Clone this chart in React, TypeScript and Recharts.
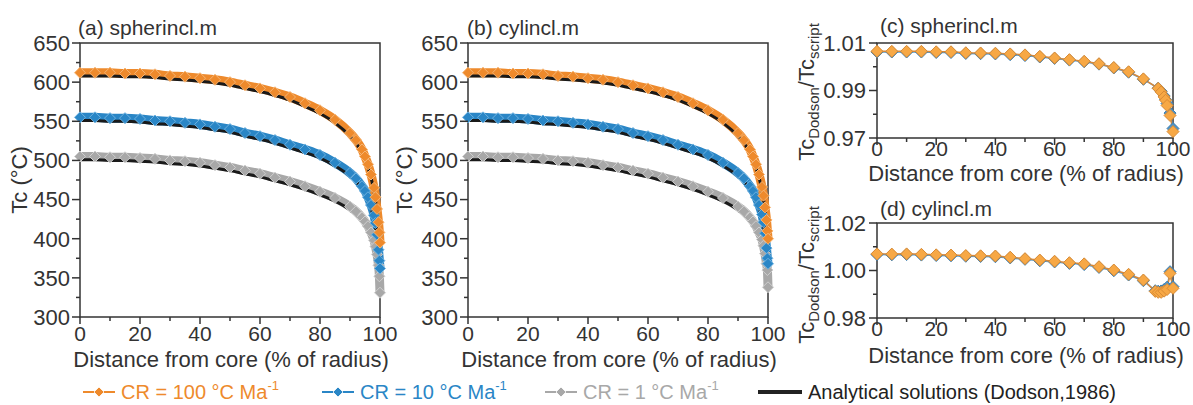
import React from "react";
import { LineChart, Line, XAxis, YAxis, ReferenceArea } from "recharts";

// distance from core (% of radius), panels a and b
const distAB = [0, 5, 10, 15, 20, 25, 30, 35, 40, 45, 50, 55, 60, 65, 70, 75, 80, 85, 90, 92, 94, 95, 96, 97, 98, 98.5, 99, 99.5, 99.8, 100];

// (a) spherincl.m
const orangeA = [612, 612, 612, 611, 611, 610, 608, 607, 605, 603, 600, 596, 592, 587, 581, 573, 564, 552, 535, 526, 514, 505, 495, 482, 465, 453, 438, 421, 408, 395];
const dodsonOrangeA = [608, 608, 608, 607, 607, 606, 604, 603, 601, 599, 596, 592, 588, 583, 577, 569, 560, 548, 531, 522, 510, 501, 491, 478, 461, 449, 433, 413, 395, 365];
const blueA = [555, 555, 554, 554, 553, 551, 550, 548, 546, 543, 540, 535, 531, 526, 520, 514, 507, 497, 484, 477, 467, 461, 453, 443, 430, 420, 405, 386, 372, 362];
const dodsonBlueA = [551, 551, 550, 550, 549, 547, 546, 544, 542, 539, 536, 531, 527, 522, 516, 510, 503, 493, 480, 473, 463, 457, 449, 439, 426, 416, 401, 382, 370, 362];
const grayA = [505, 505, 504, 504, 503, 502, 500, 499, 497, 494, 491, 487, 483, 478, 473, 467, 460, 452, 441, 435, 427, 422, 416, 408, 398, 390, 380, 366, 352, 331];
const dodsonGrayA = [501, 501, 500, 500, 499, 498, 496, 495, 493, 490, 487, 483, 479, 474, 469, 463, 456, 448, 437, 431, 423, 418, 412, 404, 394, 386, 376, 364, 361, 360];

// (b) cylincl.m
const orangeB = [612, 612, 612, 611, 611, 610, 608, 607, 605, 603, 600, 596, 592, 587, 581, 573, 564, 552, 535, 526, 514, 505, 495, 482, 466, 455, 440, 424, 410, 400];
const dodsonOrangeB = [608, 608, 608, 607, 607, 606, 604, 603, 601, 599, 596, 592, 588, 583, 577, 569, 560, 548, 531, 522, 510, 501, 491, 478, 462, 450, 435, 415, 398, 368];
const blueB = [555, 555, 554, 554, 553, 551, 550, 548, 546, 543, 540, 535, 531, 526, 520, 514, 507, 497, 484, 477, 467, 461, 453, 443, 431, 421, 407, 388, 375, 368];
const dodsonBlueB = [551, 551, 550, 550, 549, 547, 546, 544, 542, 539, 536, 531, 527, 522, 516, 510, 503, 493, 480, 473, 463, 457, 449, 439, 427, 417, 403, 384, 372, 365];
const grayB = [505, 505, 504, 504, 503, 502, 500, 499, 497, 494, 491, 487, 483, 478, 473, 467, 460, 452, 441, 435, 427, 422, 416, 408, 399, 391, 381, 368, 360, 338];
const dodsonGrayB = [501, 501, 500, 500, 499, 498, 496, 495, 493, 490, 487, 483, 479, 474, 469, 463, 456, 448, 437, 431, 423, 418, 412, 404, 395, 387, 377, 366, 363, 362];

// (c) spherincl.m ratio
const distC = [0, 5, 10, 15, 20, 25, 30, 35, 40, 45, 50, 55, 60, 65, 70, 75, 80, 85, 90, 95, 96, 97, 97.5, 98, 99, 100];
const orangeC = [1.0065, 1.0065, 1.0065, 1.0065, 1.0063, 1.0063, 1.0059, 1.0058, 1.0057, 1.0054, 1.005, 1.0044, 1.0037, 1.003, 1.0023, 1.0013, 0.9997, 0.9979, 0.9949, 0.9909, 0.9894, 0.9873, 0.9859, 0.9837, 0.9795, 0.9727];
const blueC = [1.0062, 1.0062, 1.0062, 1.0062, 1.006, 1.006, 1.0056, 1.0055, 1.0054, 1.0051, 1.0047, 1.0041, 1.0035, 1.0028, 1.0021, 1.0011, 0.9995, 0.9977, 0.9947, 0.991, 0.9897, 0.9877, 0.9862, 0.9845, 0.9805, 0.974];

// (d) cylincl.m ratio
const distD = [0, 5, 10, 15, 20, 25, 30, 35, 40, 45, 50, 55, 60, 65, 70, 75, 80, 85, 90, 94, 95, 96, 97, 98, 99, 100];
const orangeD = [1.007, 1.0069, 1.007, 1.0068, 1.0066, 1.0065, 1.0063, 1.0062, 1.0061, 1.0056, 1.005, 1.0044, 1.0039, 1.0033, 1.0028, 1.0016, 1.0002, 0.9984, 0.996, 0.9912, 0.9908, 0.9908, 0.9913, 0.992, 0.9988, 0.9925];
const blueD = [1.0067, 1.0066, 1.0067, 1.0065, 1.0063, 1.0062, 1.006, 1.0059, 1.0058, 1.0053, 1.0047, 1.0041, 1.0036, 1.003, 1.0025, 1.0013, 0.9999, 0.9981, 0.9957, 0.9915, 0.9913, 0.9914, 0.992, 0.993, 0.9995, 0.9932];

const xTicks = [0, 10, 20, 30, 40, 50, 60, 70, 80, 90, 100];
const xLabels = [0, 20, 40, 60, 80, 100];
const tcTicks = [300, 325, 350, 375, 400, 425, 450, 475, 500, 525, 550, 575, 600, 625, 650];
const tcLabels = [300, 350, 400, 450, 500, 550, 600, 650];
const ratioTicksC = [0.97, 0.98, 0.99, 1.0, 1.01];
const ratioLabelsC = [0.97, 0.99, 1.01];
const ratioTicksD = [0.98, 0.99, 1.0, 1.01, 1.02];
const ratioLabelsD = [0.98, 1.0, 1.02];

const INK = "#333";
const ORANGE = "#EE8A2C";
const BLUE = "#2A86C6";
const GRAY = "#A8A8A8";
const FONT = "'Liberation Sans', Arial, sans-serif";

const rowsAB = (dist: number[], o: number[], od: number[], b: number[], bd: number[], g: number[], gd: number[]) =>
  dist.map((d, i) => ({ d, o: o[i], od: od[i], b: b[i], bd: bd[i], g: g[i], gd: gd[i] }));
const rowsRatio = (dist: number[], o: number[], b: number[]) => dist.map((d, i) => ({ d, o: o[i], b: b[i] }));

const dataA = rowsAB(distAB, orangeA, dodsonOrangeA, blueA, dodsonBlueA, grayA, dodsonGrayA);
const dataB = rowsAB(distAB, orangeB, dodsonOrangeB, blueB, dodsonBlueB, grayB, dodsonGrayB);
const dataC = rowsRatio(distC, orangeC, blueC);
const dataD = rowsRatio(distD, orangeD, blueD);

const has = (arr: number[], v: number) => arr.some((a) => Math.abs(a - v) < 1e-9);

const makeXTick = (gap: number, size: number) => (p: any) => {
  const v = p.payload.value;
  const major = has(xLabels, v);
  return (
    <g>
      <line x1={p.x} x2={p.x} y1={p.y} y2={p.y + (major ? 7 : 4)} stroke={INK} strokeWidth={1.5} />
      {major && (
        <text x={p.x} y={p.y + gap} dy="0.72em" textAnchor="middle" fontSize={size} fill={INK} fontFamily={FONT}>
          {v}
        </text>
      )}
    </g>
  );
};

const makeYTick = (labels: number[], fmt: (v: number) => string, gap: number) => (p: any) => {
  const v = p.payload.value;
  const major = has(labels, v);
  return (
    <g>
      <line x1={p.x} x2={p.x - (major ? 8 : 4)} y1={p.y} y2={p.y} stroke={INK} strokeWidth={1.5} />
      {major && (
        <text x={p.x - gap} y={p.y} dy="0.36em" textAnchor="end" fontSize={22} fill={INK} fontFamily={FONT}>
          {fmt(v)}
        </text>
      )}
    </g>
  );
};

const diamond = (r: number, fill: string, stroke: string) => (p: any) => {
  const { cx, cy, index } = p;
  if (cx == null || cy == null) return <g key={index} />;
  return (
    <path
      key={index}
      d={`M${cx},${cy - r}L${cx + r},${cy}L${cx},${cy + r}L${cx - r},${cy}Z`}
      fill={fill}
      stroke={stroke}
      strokeWidth={1}
    />
  );
};

const TcPanel = ({ data, left }: { data: any[]; left: number }) => (
  <div style={{ position: "absolute", left, top: 0 }}>
    <LineChart width={405} height={372} data={data} margin={{ top: 43, right: 25, bottom: 25, left: 20 }}>
      <XAxis
        dataKey="d"
        type="number"
        domain={[0, 100]}
        ticks={xTicks}
        height={30}
        tickSize={0}
        tickMargin={0}
        axisLine={false}
        tickLine={false}
        tick={makeXTick(9, 21)}
        interval={0}
      />
      <YAxis
        type="number"
        domain={[300, 650]}
        ticks={tcTicks}
        width={60}
        tickSize={0}
        tickMargin={0}
        axisLine={false}
        tickLine={false}
        tick={makeYTick(tcLabels, (v) => String(v), 10)}
        interval={0}
      />
      <ReferenceArea x1={0} x2={100} y1={300} y2={650} fill="none" stroke={INK} strokeWidth={1.5} />
      <Line type="monotone" dataKey="g" stroke={GRAY} strokeWidth={9} dot={diamond(5.5, GRAY, "#CFCFCF")} isAnimationActive={false} />
      <Line type="monotone" dataKey="b" stroke={BLUE} strokeWidth={9} dot={diamond(5.5, BLUE, "#6FB2E0")} isAnimationActive={false} />
      <Line type="monotone" dataKey="o" stroke={ORANGE} strokeWidth={9} dot={diamond(5.5, ORANGE, "#F6B574")} isAnimationActive={false} />
      <Line type="monotone" dataKey="gd" stroke="#1a1a1a" strokeWidth={3} dot={false} isAnimationActive={false} />
      <Line type="monotone" dataKey="bd" stroke="#1a1a1a" strokeWidth={3} dot={false} isAnimationActive={false} />
      <Line type="monotone" dataKey="od" stroke="#1a1a1a" strokeWidth={3} dot={false} isAnimationActive={false} />
    </LineChart>
  </div>
);

const RatioPanel = ({
  data,
  top,
  domain,
  ticks,
  labels,
}: {
  data: any[];
  top: number;
  domain: [number, number];
  ticks: number[];
  labels: number[];
}) => (
  <div style={{ position: "absolute", left: 797, top }}>
    <LineChart width={396} height={178} data={data} margin={{ top: 43, right: 20, bottom: 10, left: 20 }}>
      <XAxis
        dataKey="d"
        type="number"
        domain={[0, 100]}
        ticks={xTicks}
        height={30}
        tickSize={0}
        tickMargin={0}
        axisLine={false}
        tickLine={false}
        tick={makeXTick(3, 21)}
        interval={0}
      />
      <YAxis
        type="number"
        domain={domain}
        ticks={ticks}
        width={60}
        tickSize={0}
        tickMargin={0}
        axisLine={false}
        tickLine={false}
        tick={makeYTick(labels, (v) => v.toFixed(2), 11)}
        interval={0}
      />
      <ReferenceArea x1={0} x2={100} y1={domain[0]} y2={domain[1]} fill="none" stroke={INK} strokeWidth={1.5} />
      <Line type="linear" dataKey="b" stroke="#5B9BC8" strokeWidth={1.5} dot={diamond(6, "#4F93C6", "#3E7FAF")} isAnimationActive={false} />
      <Line type="linear" dataKey="o" stroke="#D9893A" strokeWidth={1.5} dot={diamond(6, "#F7A845", "#D98B35")} isAnimationActive={false} />
    </LineChart>
  </div>
);

const txt: React.CSSProperties = { position: "absolute", whiteSpace: "nowrap", fontFamily: FONT, color: INK, lineHeight: 1 };

const Rotated = ({ cx, cy, children }: { cx: number; cy: number; children: React.ReactNode }) => (
  <div style={{ ...txt, left: cx, top: cy, fontSize: 22, transform: "translate(-50%, -50%) rotate(-90deg)" }}>{children}</div>
);

const XTitle = ({ cx, cy }: { cx: number; cy: number }) => (
  <div style={{ ...txt, left: cx, top: cy, fontSize: 22, transform: "translate(-50%, -50%)" }}>Distance from core (% of radius)</div>
);

const Sub = ({ children }: { children: React.ReactNode }) => (
  <span style={{ fontSize: 15, position: "relative", top: 5 }}>{children}</span>
);

const RatioLabel = () => (
  <>
    Tc<Sub>Dodson</Sub>/Tc<Sub>script</Sub>
  </>
);

const LegendItem = ({ left, color, text, line }: { left: number; color: string; text: React.ReactNode; line?: boolean }) => (
  <div style={{ ...txt, left, top: 382, fontSize: 20, color: line ? "#222" : color, display: "flex", alignItems: "center" }}>
    <svg width={line ? 44 : 32} height={14} style={{ marginRight: 6 }}>
      {line ? (
        <line x1={0} x2={44} y1={7} y2={7} stroke="#222" strokeWidth={4} />
      ) : (
        <>
          <line x1={0} x2={32} y1={7} y2={7} stroke={color} strokeWidth={2} />
          <path d="M16,2L21,7L16,12L11,7Z" fill={color} stroke="#fff" strokeWidth={0.8} />
        </>
      )}
    </svg>
    <span>{text}</span>
  </div>
);

const Cr = ({ v }: { v: string }) => (
  <>
    CR = {v} °C Ma<span style={{ fontSize: 13, position: "relative", top: -9 }}>-1</span>
  </>
);

export default function App() {
  return (
    <div style={{ position: "absolute", left: 0, top: 0, width: 1193, height: 405, background: "#fff", overflow: "hidden" }}>
      <TcPanel data={dataA} left={0} />
      <TcPanel data={dataB} left={388} />
      <RatioPanel data={dataC} top={0} domain={[0.97, 1.01]} ticks={ratioTicksC} labels={ratioLabelsC} />
      <RatioPanel data={dataD} top={180} domain={[0.98, 1.02]} ticks={ratioTicksD} labels={ratioLabelsD} />

      <div style={{ ...txt, left: 78, top: 17, fontSize: 21 }}>(a) spherincl.m</div>
      <div style={{ ...txt, left: 467, top: 17, fontSize: 21 }}>(b) cylincl.m</div>
      <div style={{ ...txt, left: 880, top: 15, fontSize: 21 }}>(c) spherincl.m</div>
      <div style={{ ...txt, left: 880, top: 198, fontSize: 21 }}>(d) cylincl.m</div>

      <Rotated cx={20} cy={180}>Tc (°C)</Rotated>
      <Rotated cx={405} cy={180}>Tc (°C)</Rotated>
      <Rotated cx={807} cy={92}>
        <RatioLabel />
      </Rotated>
      <Rotated cx={807} cy={275}>
        <RatioLabel />
      </Rotated>

      <XTitle cx={231} cy={360} />
      <XTitle cx={619} cy={360} />
      <XTitle cx={1026} cy={174} />
      <XTitle cx={1026} cy={356} />

      <LegendItem left={83} color={ORANGE} text={<Cr v="100" />} />
      <LegendItem left={322} color={BLUE} text={<Cr v="10" />} />
      <LegendItem left={545} color={GRAY} text={<Cr v="1" />} />
      <LegendItem left={758} color="#222" line text="Analytical solutions (Dodson,1986)" />
    </div>
  );
}
